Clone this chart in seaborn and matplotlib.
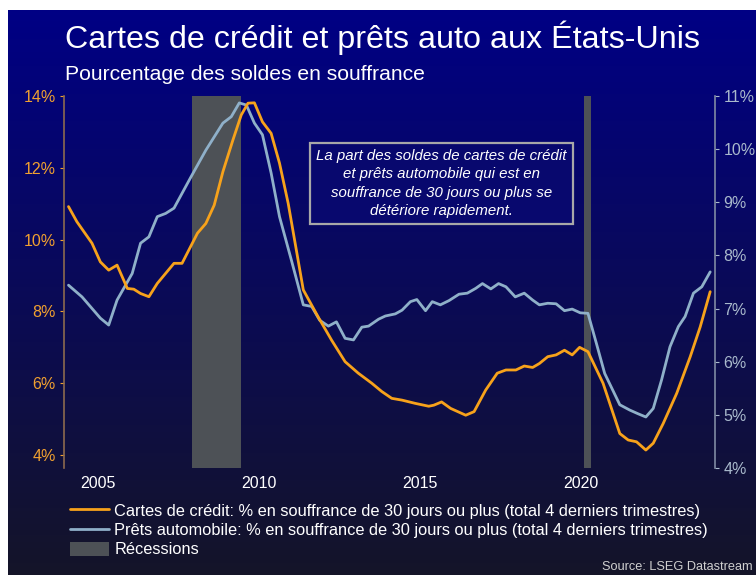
import numpy as np
import pandas as pd
import matplotlib
matplotlib.use("Agg")
import matplotlib.pyplot as plt
from matplotlib.patches import Patch
import seaborn as sns

# ---------------- data ----------------
cc_years = [2004.07, 2004.33, 2004.8, 2005.06, 2005.32, 2005.58, 2005.9, 2006.1, 2006.31, 2006.57,
            2006.83, 2007.35, 2007.6, 2008.08, 2008.34, 2008.6, 2008.87, 2009.18, 2009.44, 2009.65,
            2009.85, 2010.1, 2010.37, 2010.63, 2010.9, 2011.37, 2011.83, 2012.25, 2012.67, 2013.08,
            2013.5, 2013.81, 2014.12, 2014.44, 2014.85, 2015.27, 2015.43, 2015.67, 2015.95, 2016.42,
            2016.68, 2017.04, 2017.4, 2017.67, 2017.98, 2018.24, 2018.5, 2018.71, 2018.97, 2019.23,
            2019.49, 2019.73, 2019.96, 2020.22, 2020.69, 2021.21, 2021.47, 2021.73, 2022.02, 2022.25,
            2022.56, 2022.98, 2023.4, 2023.71, 2024.02]
cc_values = [10.92, 10.5, 9.9, 9.38, 9.15, 9.29, 8.64, 8.62, 8.5, 8.41,
             8.78, 9.34, 9.34, 10.18, 10.45, 10.96, 11.89, 12.77, 13.47, 13.8,
             13.81, 13.28, 12.96, 12.13, 11.01, 8.6, 7.85, 7.2, 6.6, 6.28,
             6.0, 5.77, 5.58, 5.53, 5.44, 5.36, 5.39, 5.48, 5.3, 5.11,
             5.21, 5.81, 6.28, 6.37, 6.37, 6.48, 6.44, 6.55, 6.74, 6.79,
             6.92, 6.79, 7.0, 6.88, 6.0, 4.6, 4.42, 4.37, 4.14, 4.33,
             4.88, 5.72, 6.74, 7.57, 8.55]

auto_years = [2004.07, 2004.49, 2005.06, 2005.32, 2005.58, 2006.05, 2006.31, 2006.57, 2006.83, 2007.09,
              2007.35, 2007.88, 2008.34, 2008.87, 2009.13, 2009.38, 2009.6, 2009.85, 2010.1, 2010.37,
              2010.63, 2011.0, 2011.37, 2011.63, 2011.88, 2012.15, 2012.4, 2012.67, 2012.93, 2013.19,
              2013.4, 2013.71, 2013.92, 2014.23, 2014.44, 2014.7, 2014.9, 2015.17, 2015.38, 2015.63,
              2015.9, 2016.21, 2016.47, 2016.73, 2016.94, 2017.2, 2017.44, 2017.67, 2017.96, 2018.24,
              2018.5, 2018.71, 2018.97, 2019.23, 2019.49, 2019.73, 2019.98, 2020.22, 2020.48, 2020.74,
              2021.21, 2021.52, 2021.78, 2022.02, 2022.25, 2022.51, 2022.77, 2023.03, 2023.24, 2023.5,
              2023.76, 2024.02]
auto_values = [7.44, 7.22, 6.82, 6.69, 7.16, 7.66, 8.23, 8.35, 8.73, 8.79,
               8.89, 9.48, 9.98, 10.49, 10.61, 10.87, 10.83, 10.49, 10.27, 9.55,
               8.73, 7.91, 7.07, 7.04, 6.78, 6.67, 6.75, 6.44, 6.41, 6.65,
               6.67, 6.8, 6.86, 6.9, 6.97, 7.13, 7.17, 6.96, 7.13, 7.07,
               7.15, 7.27, 7.29, 7.38, 7.47, 7.37, 7.47, 7.41, 7.22, 7.29,
               7.16, 7.07, 7.1, 7.09, 6.96, 6.99, 6.92, 6.91, 6.35, 5.78,
               5.19, 5.09, 5.02, 4.96, 5.12, 5.66, 6.28, 6.66, 6.85, 7.29,
               7.41, 7.69]

recession_starts = [2007.92, 2020.1]
recession_ends = [2009.42, 2020.3]

x_ticks = [2005, 2010, 2015, 2020]
left_ticks = [4, 6, 8, 10, 12, 14]
right_ticks = [4, 5, 6, 7, 8, 9, 10, 11]

title = "Cartes de crédit et prêts auto aux États-Unis"
subtitle = "Pourcentage des soldes en souffrance"
cc_label = "Cartes de crédit: % en souffrance de 30 jours ou plus (total 4 derniers trimestres)"
auto_label = "Prêts automobile: % en souffrance de 30 jours ou plus (total 4 derniers trimestres)"
rec_label = "Récessions"
note = ("La part des soldes de cartes de crédit\net prêts automobile qui est en\n"
        "souffrance de 30 jours ou plus se\ndétériore rapidement.")
source = "Source: LSEG Datastream"

# ---------------- style ----------------
sns.set_theme(style="white")
plt.rcParams["font.family"] = ["Liberation Sans", "DejaVu Sans"]

ORANGE = "#f7a21b"
BLUE = "#8fb0c9"
LEFT_TXT = "#f0a030"
RIGHT_TXT = "#a9b9cc"
REC = "#4d5156"

W, H = 756, 575
fig = plt.figure(figsize=(W / 100, H / 100), dpi=100, facecolor="white")

# gradient background (white margin top and left as in the reference)
bg = fig.add_axes([8 / W, 0, 1 - 8 / W, 1 - 10 / H])
bg.set_axis_off()
top = np.array([0.0, 0.0, 0.52])
bot = np.array([0.08, 0.08, 0.16])
t = np.linspace(0, 1, 256)[:, None]
grad = top[None, :] * (1 - t) + bot[None, :] * t
bg.imshow(grad[:, None, :], aspect="auto", extent=[0, 1, 0, 1])

# main axes
x0, x1 = 64 / W, 715 / W
y_top, y_bot = 1 - 96 / H, 1 - 468 / H
ax2 = fig.add_axes([x0, y_bot, x1 - x0, y_top - y_bot])   # back: recessions + auto loans (right scale)
ax2.set_facecolor("none")
ax = ax2.twinx()                                            # front: credit cards (left scale)
ax.set_facecolor("none")

cc_df = pd.DataFrame({"year": cc_years, "value": cc_values})
auto_df = pd.DataFrame({"year": auto_years, "value": auto_values})

for s, e in zip(recession_starts, recession_ends):
    ax2.axvspan(s, e, color=REC, zorder=0, lw=0)

sns.lineplot(data=auto_df, x="year", y="value", ax=ax2, color=BLUE, lw=2.0, zorder=3)
sns.lineplot(data=cc_df, x="year", y="value", ax=ax, color=ORANGE, lw=2.0, zorder=4)

ax2.set_xlim(2003.93, 2024.17)
ax.set_ylim(3.64, 14.0)
ax2.set_ylim(4.0, 11.0)

# left scale (credit cards) shown on the left, right scale (auto) on the right
ax.yaxis.tick_left()
ax.yaxis.set_label_position("left")
ax2.yaxis.tick_right()
ax2.yaxis.set_label_position("right")

ax2.set_xticks(x_ticks)
ax2.set_xticklabels([str(v) for v in x_ticks])
ax.set_yticks(left_ticks)
ax.set_yticklabels([f"{v}%" for v in left_ticks])
ax2.set_yticks(right_ticks)
ax2.set_yticklabels([f"{v}%" for v in right_ticks])
for a in (ax, ax2):
    a.set_xlabel("")
    a.set_ylabel("")
    a.grid(False)
    for sp in a.spines.values():
        sp.set_visible(False)

ax2.tick_params(axis="x", colors="white", labelsize=11.5, length=0, pad=6)
ax.tick_params(axis="x", length=0, labelbottom=False)
ax.tick_params(axis="y", colors=LEFT_TXT, labelcolor=LEFT_TXT, labelsize=11.5, length=3, width=0.8, pad=3,
               left=True, right=False, labelleft=True, labelright=False)
ax2.tick_params(axis="y", colors=RIGHT_TXT, labelcolor=RIGHT_TXT, labelsize=11.5, length=3, width=0.8, pad=3,
                right=True, left=False, labelright=True, labelleft=False)

ax.spines["left"].set_visible(True)
ax.spines["left"].set_color("#8c6a4e")
ax.spines["left"].set_linewidth(1.2)
ax2.spines["right"].set_visible(True)
ax2.spines["right"].set_color("#7f8aa3")
ax2.spines["right"].set_linewidth(1.2)

# titles
fig.text(65 / W, 1 - 38 / H, title, color="white", fontsize=23.2, va="center", ha="left")
fig.text(65 / W, 1 - 74 / H, subtitle, color="white", fontsize=15.2, va="center", ha="left")

# annotation box
ax.text(0.580, 0.765, note, transform=ax.transAxes, ha="center", va="center",
        color="white", fontsize=10.8, style="italic", linespacing=1.4, zorder=10,
        bbox=dict(boxstyle="square,pad=0.42", fc="#08086e", ec="#a8a8a8", lw=1.6))

# legend
handles = [
    plt.Line2D([0], [0], color=ORANGE, lw=2),
    plt.Line2D([0], [0], color=BLUE, lw=2),
    Patch(facecolor=REC, edgecolor="none"),
]
leg = fig.legend(handles, [cc_label, auto_label, rec_label], loc="upper left",
                 bbox_to_anchor=(70 / W, 1 - 503 / H), frameon=False,
                 prop={"size": 11.8}, labelcolor="white",
                 handlelength=2.4, handleheight=0.95, handletextpad=0.3,
                 labelspacing=0.22, borderaxespad=0, borderpad=0)

fig.text(753 / W, 1 - 567 / H, source, color="#d0d0d0", fontsize=9.2, ha="right", va="center")

fig.savefig("out.png", dpi=100, facecolor=fig.get_facecolor())
